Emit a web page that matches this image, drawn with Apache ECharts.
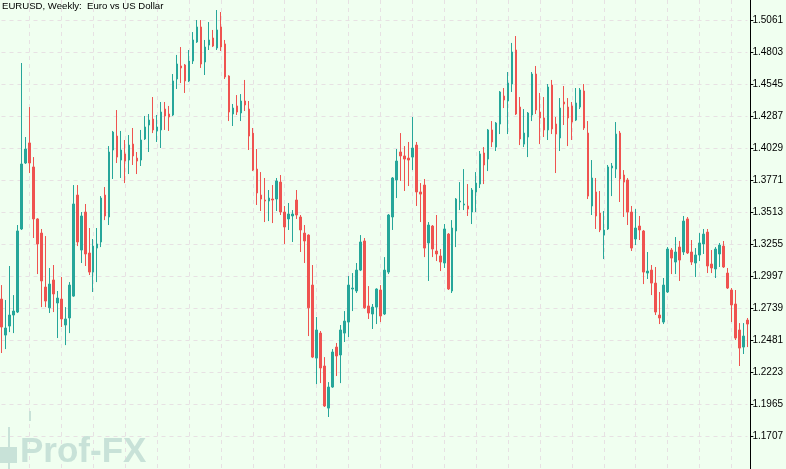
<!DOCTYPE html>
<html>
<head>
<meta charset="utf-8">
<script src="https://cdn.jsdelivr.net/npm/echarts@6/dist/echarts.min.js"></script>
<style>
html,body{margin:0;padding:0;background:#F0FFF0;}
#c{width:786px;height:469px;}
</style>
</head>
<body>
<div id="c"></div>
<script>
const titleText = 'EURUSD, Weekly:  Euro vs US Dollar';
const watermarkText = 'Prof-FX';
const yTicks = [1.1707,1.1965,1.2223,1.2481,1.2739,1.2997,1.3255,1.3513,1.3771,1.4029,1.4287,1.4545,1.4803,1.5061];

const opens = [
1.2812,1.2521,1.2594,1.2683,1.2707,1.3378,1.3911,1.4073,1.3879,1.3459,
1.3345,1.2909,1.2741,1.2966,1.2780,1.2812,1.2602,1.2659,1.2836,1.3652,
1.3208,1.3515,1.3184,1.3030,1.3224,1.3273,1.3652,1.3475,1.4016,1.4129,
1.3935,1.3984,1.3935,1.4064,1.3951,1.3935,1.4105,1.4218,1.4266,1.4170,
1.4178,1.4347,1.4307,1.4299,1.4590,1.4695,1.4703,1.4574,1.4735,1.4889,
1.5010,1.4727,1.4864,1.4921,1.4840,1.5010,1.4873,1.4614,1.4307,1.4372,
1.4315,1.4412,1.4347,1.4153,1.3862,1.3652,1.3612,1.3604,1.3620,1.3620,
1.3757,1.3515,1.3459,1.3483,1.3612,1.3475,1.3345,1.3329,1.2925,1.2335,
1.2537,1.2271,1.1931,1.2101,1.2424,1.2360,1.2537,1.2626,1.2893,1.2877,
1.3046,1.3281,1.2756,1.2691,1.2747,1.2885,1.2691,1.3030,1.3475,1.3774,
1.4000,1.3968,1.3951,1.3959,1.4056,1.3677,1.3733,1.3265,1.3402,1.3200,
1.3160,1.3103,1.3337,1.2877,1.3362,1.3596,1.3572,1.3564,1.3515,1.3677,
1.3741,1.3992,1.3943,1.4178,1.4040,1.4226,1.4452,1.4412,1.4549,1.4824,
1.4363,1.4064,1.4121,1.4299,1.4630,1.4323,1.4275,1.4178,1.4541,1.4226,
1.4113,1.4404,1.4363,1.4372,1.4258,1.4363,1.4493,1.4153,1.3564,1.3677,
1.3507,1.3329,1.3378,1.3871,1.3862,1.4153,1.3814,1.3774,1.3515,1.3297,
1.3402,1.3362,1.3022,1.3046,1.2941,1.2683,1.2626,1.2869,1.3208,1.3111,
1.3232,1.3192,1.3459,1.3192,1.3103,1.3168,1.3257,1.3353,1.3095,1.3055,
1.3176,1.3240,1.3022,1.2885,1.2772,1.2562,1.2424,1.2642
];
const closes = [
1.2586,1.2578,1.2683,1.2715,1.3362,1.3903,1.4024,1.3911,1.3459,1.3257,
1.2958,1.2796,1.2933,1.2853,1.2820,1.2651,1.2651,1.2925,1.3580,1.3273,
1.3483,1.3176,1.3030,1.3240,1.3257,1.3628,1.3483,1.4000,1.4161,1.3959,
1.4016,1.3927,1.4056,1.3968,1.3927,1.4097,1.4202,1.4258,1.4178,1.4202,
1.4323,1.4291,1.4283,1.4574,1.4711,1.4679,1.4574,1.4735,1.4905,1.5010,
1.4711,1.4848,1.4905,1.4856,1.4986,1.4848,1.4606,1.4323,1.4355,1.4323,
1.4412,1.4380,1.4129,1.3854,1.3669,1.3620,1.3604,1.3628,1.3612,1.3766,
1.3515,1.3394,1.3499,1.3499,1.3491,1.3370,1.3281,1.2741,1.2343,1.2562,
1.2255,1.1948,1.2101,1.2384,1.2352,1.2562,1.2634,1.2925,1.2901,1.3046,
1.3273,1.2741,1.2699,1.2747,1.2893,1.2675,1.3046,1.3491,1.3790,1.3927,
1.3968,1.3943,1.3935,1.4032,1.3677,1.3660,1.3224,1.3410,1.3216,1.3176,
1.3111,1.3378,1.2893,1.3386,1.3620,1.3604,1.3580,1.3539,1.3693,1.3749,
1.3984,1.3895,1.4178,1.4081,1.4234,1.4485,1.4420,1.4557,1.4808,1.4307,
1.4105,1.4153,1.4315,1.4630,1.4339,1.4275,1.4178,1.4525,1.4186,1.4145,
1.4355,1.4388,1.4275,1.4242,1.4396,1.4501,1.4194,1.3644,1.3790,1.3483,
1.3370,1.3370,1.3879,1.3887,1.4145,1.3782,1.3757,1.3515,1.3224,1.3386,
1.3370,1.3030,1.3038,1.2941,1.2707,1.2659,1.2925,1.3216,1.3143,1.3192,
1.3127,1.3442,1.3184,1.3111,1.3168,1.3265,1.3337,1.3079,1.3063,1.3216,
1.3248,1.3071,1.2901,1.2764,1.2497,1.2416,1.2513,1.2610
];
const highs = [
1.2925,1.2804,1.3079,1.2844,1.3410,1.4719,1.4121,1.4363,1.3959,1.3465,
1.3378,1.3321,1.3063,1.3087,1.2877,1.2990,1.2747,1.2949,1.3733,1.3733,
1.3515,1.3580,1.3386,1.3297,1.3386,1.3644,1.3717,1.4048,1.4170,1.4339,
1.4170,1.4097,1.4137,1.4194,1.4000,1.4178,1.4291,1.4307,1.4444,1.4299,
1.4404,1.4404,1.4372,1.4630,1.4784,1.4848,1.4711,1.4824,1.4969,1.5066,
1.5066,1.4905,1.5050,1.4986,1.5147,1.5131,1.4905,1.4620,1.4388,1.4460,
1.4468,1.4582,1.4412,1.4194,1.4024,1.3838,1.3790,1.3693,1.3733,1.3790,
1.3814,1.3564,1.3588,1.3531,1.3693,1.3491,1.3410,1.3335,1.3087,1.2667,
1.2554,1.2343,1.2141,1.2408,1.2457,1.2602,1.2715,1.2998,1.3022,1.3103,
1.3329,1.3305,1.2917,1.2772,1.2899,1.2925,1.3151,1.3499,1.3798,1.4024,
1.4153,1.4048,1.4081,1.4283,1.4081,1.3749,1.3782,1.3434,1.3410,1.3491,
1.3216,1.3418,1.3345,1.3450,1.3628,1.3757,1.3862,1.3741,1.3709,1.3838,
1.4008,1.4040,1.4186,1.4250,1.4242,1.4493,1.4517,1.4646,1.4881,1.4937,
1.4444,1.4347,1.4323,1.4646,1.4695,1.4477,1.4444,1.4549,1.4582,1.4283,
1.4436,1.4533,1.4436,1.4404,1.4517,1.4517,1.4549,1.4250,1.3935,1.3790,
1.3685,1.3523,1.3895,1.3911,1.4242,1.4170,1.3854,1.3790,1.3564,1.3539,
1.3483,1.3370,1.3192,1.3087,1.3071,1.2869,1.2982,1.3232,1.3224,1.3313,
1.3281,1.3483,1.3475,1.3289,1.3224,1.3345,1.3378,1.3378,1.3208,1.3232,
1.3265,1.3281,1.3063,1.2901,1.2885,1.2618,1.2618,1.2659
];
const lows = [
1.2376,1.2408,1.2545,1.2537,1.2699,1.3370,1.3903,1.3830,1.3305,1.3014,
1.2747,1.2747,1.2699,1.2707,1.2497,1.2586,1.2440,1.2537,1.2830,1.3240,
1.3103,1.3079,1.3006,1.2869,1.2949,1.3232,1.3450,1.3410,1.3782,1.3911,
1.3790,1.3749,1.3822,1.3895,1.3822,1.3887,1.4097,1.4000,1.4153,1.4081,
1.4032,1.4178,1.4170,1.4291,1.4509,1.4557,1.4477,1.4565,1.4711,1.4881,
1.4679,1.4622,1.4824,1.4848,1.4824,1.4816,1.4590,1.4250,1.4210,1.4299,
1.4250,1.4331,1.4016,1.3846,1.3572,1.3523,1.3434,1.3442,1.3426,1.3523,
1.3491,1.3257,1.3370,1.3273,1.3459,1.3192,1.3103,1.2513,1.2335,1.2125,
1.2133,1.1940,1.1859,1.2095,1.2190,1.2133,1.2465,1.2505,1.2715,1.2861,
1.3038,1.2733,1.2651,1.2570,1.2610,1.2626,1.2683,1.3014,1.3370,1.3628,
1.3766,1.3685,1.3725,1.3854,1.3564,1.3434,1.3151,1.2958,1.3151,1.3119,
1.3038,1.3063,1.2885,1.2861,1.3232,1.3531,1.3531,1.3483,1.3418,1.3515,
1.3709,1.3741,1.3846,1.4040,1.4008,1.4145,1.4355,1.4145,1.4485,1.4299,
1.4056,1.4040,1.3959,1.4250,1.4307,1.4064,1.4121,1.4097,1.4145,1.3830,
1.4008,1.4218,1.4048,1.4097,1.4250,1.4347,1.4178,1.3620,1.3491,1.3378,
1.3353,1.3135,1.3370,1.3644,1.3790,1.3596,1.3475,1.3410,1.3200,1.3248,
1.3289,1.2933,1.2974,1.2844,1.2683,1.2610,1.2610,1.2861,1.3014,1.3014,
1.2958,1.3168,1.3176,1.3087,1.2990,1.3119,1.3176,1.3022,1.3022,1.2982,
1.3071,1.3063,1.2893,1.2626,1.2481,1.2271,1.2368,1.2424
];

const weeks = opens.map((_, i) => i + 1);
const candles = weeks.map((_, i) => [opens[i], closes[i], lows[i], highs[i]]);

const upColor = '#26A69A';
const downColor = '#EF5350';
const gridColor = '#E7E1E3';
const wmColor = '#C8E2D8';

const chart = echarts.init(document.getElementById('c'), null, { renderer: 'canvas' });
chart.setOption({
  animation: false,
  backgroundColor: '#F0FFF0',
  title: {
    text: titleText,
    left: 2,
    top: 1,
    padding: 0,
    textStyle: { fontFamily: 'Liberation Sans', fontSize: 9.6, fontWeight: 'normal', color: '#000' }
  },
  grid: { left: 1.5, right: 36.5, top: 0, bottom: 0 },
  xAxis: {
    type: 'category',
    data: weeks,
    boundaryGap: false,
    axisLine: { show: false },
    axisTick: { show: false },
    axisLabel: { show: false },
    splitLine: {
      show: true,
      interval: (i) => i % 8 === 7,
      lineStyle: { color: gridColor, type: [4, 4], width: 1 }
    }
  },
  yAxis: {
    type: 'value',
    position: 'right',
    offset: 3,
    min: 1.1439,
    max: 1.5228,
    axisLine: { show: true, lineStyle: { color: '#000', width: 1 } },
    axisTick: { show: true, length: 3, customValues: yTicks, lineStyle: { color: '#000' } },
    axisLabel: {
      customValues: yTicks,
      margin: 2,
      formatter: (v) => v.toFixed(4),
      fontFamily: 'Liberation Sans',
      fontSize: 10,
      color: '#000'
    },
    splitLine: { show: true, lineStyle: { color: gridColor, type: [4, 4], width: 1 } }
  },
  graphic: [
    { type: 'rect', silent: true, z: 1, shape: { x: 0, y: 447, width: 17, height: 16 }, style: { fill: wmColor } },
    { type: 'rect', silent: true, z: 1, shape: { x: 8, y: 427, width: 2, height: 42 }, style: { fill: wmColor } },
    { type: 'rect', silent: true, z: 1, shape: { x: 29, y: 411, width: 2, height: 10 }, style: { fill: wmColor } },
    { type: 'text', silent: true, z: 1, x: 20, y: 470,
      style: { text: watermarkText, font: 'bold 35px "Liberation Sans"', fill: wmColor, textVerticalAlign: 'bottom' } }
  ],
  series: [{
    type: 'candlestick',
    data: candles,
    barWidth: 2,
    clip: false,
    itemStyle: {
      color: upColor, color0: downColor,
      borderColor: upColor, borderColor0: downColor,
      borderWidth: 1
    }
  }]
});
</script>
</body>
</html>
